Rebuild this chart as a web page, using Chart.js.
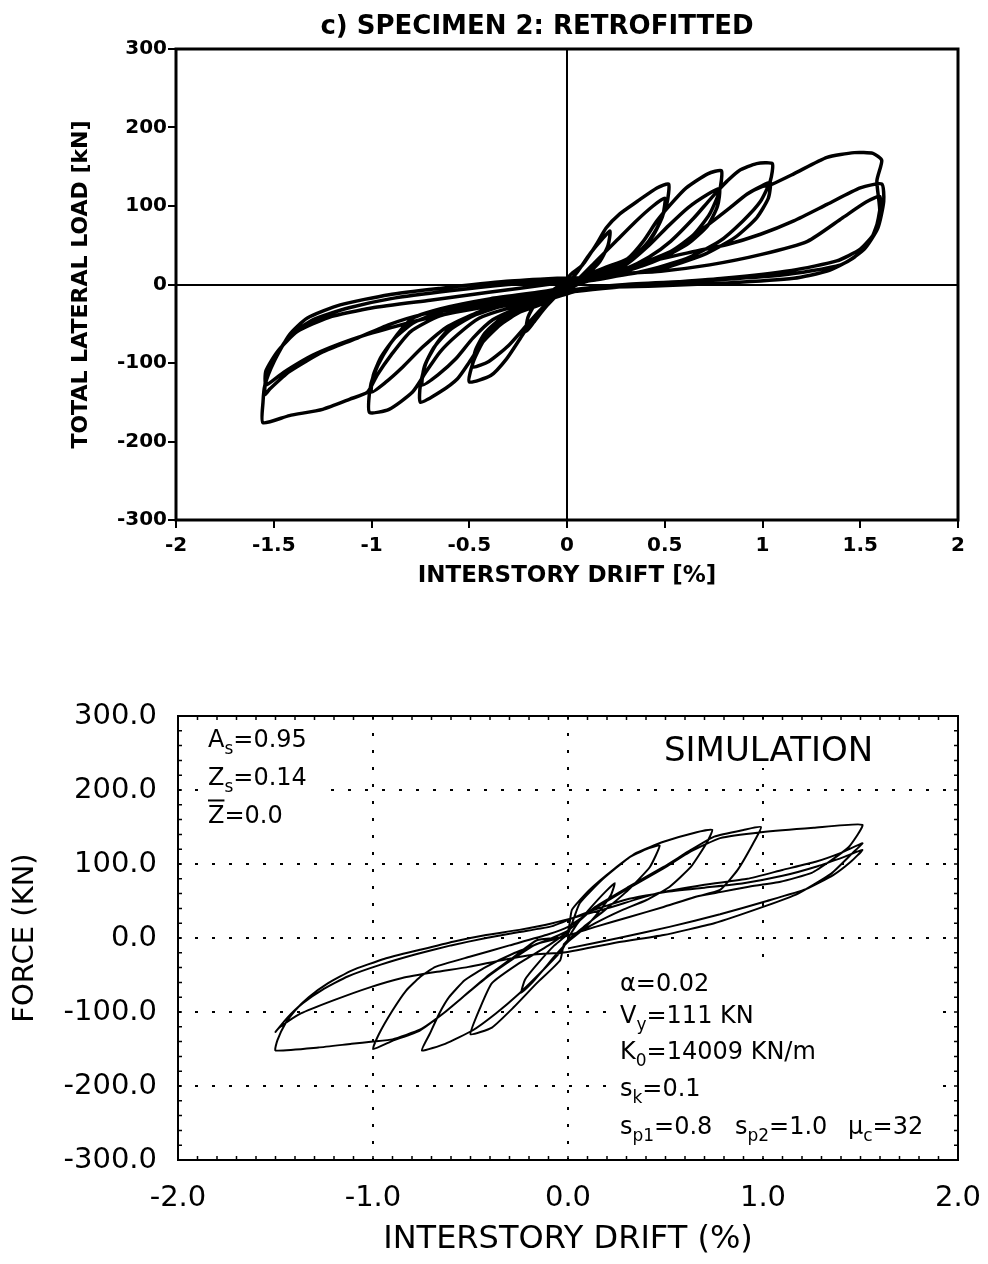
<!DOCTYPE html>
<html>
<head>
<meta charset="utf-8">
<script src="https://cdn.jsdelivr.net/npm/chart.js@4.4.1/dist/chart.umd.min.js"></script>
<style>
  body { margin: 0; background: #fff; }
  canvas { position: absolute; left: 0; background: #fff; }
  #topChart { top: 0; }
  #simChart { top: 640px; }
</style>
</head>
<body>
<canvas id="topChart" width="988" height="610"></canvas>
<canvas id="simChart" width="988" height="624"></canvas>
<script>
// tick labels
const topXTickLabels = ['-2', '-1.5', '-1', '-0.5', '0', '0.5', '1', '1.5', '2'];
const topYTickLabels = ['-300', '-200', '-100', '0', '100', '200', '300'];
const simXTickLabels = ['-2.0', '-1.0', '0.0', '1.0', '2.0'];
const simYTickLabels = ['-300.0', '-200.0', '-100.0', '0.0', '100.0', '200.0', '300.0'];

// test, specimen 2 retrofitted: [drift %, load kN]
const expCycle1 = [
  [0, 0], [0.05, 15], [0.12, 40], [0.18, 58], [0.22, 68],
  [0.21, 50], [0.17, 30], [0.10, 12], [0.02, 2],
  [-0.05, -12], [-0.12, -32], [-0.17, -48], [-0.21, -60],
  [-0.20, -42], [-0.16, -24], [-0.09, -10], [-0.02, 2]
];
const expCycle2 = [
  [0.02, 13], [0.08, 25], [0.15, 51], [0.20, 72], [0.27, 90], [0.36, 106], [0.46, 123], [0.52, 128],
  [0.51, 102], [0.46, 72], [0.39, 46], [0.25, 21], [0.10, 8], [0.0, 0],
  [-0.05, -13], [-0.10, -26], [-0.17, -43], [-0.24, -69], [-0.31, -95], [-0.39, -116], [-0.50, -124],
  [-0.48, -99], [-0.43, -73], [-0.36, -51], [-0.26, -35], [-0.14, -22], [-0.02, -8]
];
const expCycle3 = [
  [0.05, 5], [0.15, 30], [0.25, 55], [0.35, 80], [0.44, 100], [0.50, 110],
  [0.49, 88], [0.44, 62], [0.36, 40], [0.22, 20], [0.08, 6],
  [-0.04, -10], [-0.12, -28], [-0.20, -50], [-0.30, -78], [-0.40, -98], [-0.48, -105],
  [-0.47, -85], [-0.42, -62], [-0.33, -42], [-0.20, -28], [-0.05, -12], [0.02, 0]
];
const expCycle4 = [
  [0.10, 12], [0.20, 22], [0.31, 33], [0.39, 55], [0.46, 81], [0.53, 102], [0.61, 123], [0.72, 141], [0.79, 145],
  [0.78, 119], [0.73, 90], [0.65, 64], [0.53, 42], [0.31, 21], [0.10, 8], [0.0, 2],
  [-0.08, -16], [-0.14, -26], [-0.24, -35], [-0.34, -51], [-0.43, -73], [-0.50, -99], [-0.56, -120], [-0.65, -137], [-0.75, -150],
  [-0.75, -128], [-0.72, -99], [-0.66, -73], [-0.58, -51], [-0.45, -35], [-0.28, -22], [-0.10, -12], [0.0, -2]
];
const expCycle5 = [
  [0.15, 10], [0.30, 25], [0.42, 50], [0.52, 75], [0.62, 98], [0.72, 115], [0.78, 122],
  [0.77, 100], [0.72, 75], [0.62, 52], [0.48, 33], [0.30, 17], [0.10, 5],
  [-0.10, -18], [-0.25, -30], [-0.38, -45], [-0.48, -68], [-0.57, -95], [-0.66, -115], [-0.74, -128],
  [-0.73, -105], [-0.68, -80], [-0.60, -58], [-0.48, -40], [-0.30, -25], [-0.10, -12], [0.0, -4]
];
const expCycle6 = [
  [0.15, 8], [0.30, 20], [0.42, 35], [0.53, 55], [0.65, 85], [0.72, 105], [0.77, 119], [0.82, 132], [0.88, 145], [0.97, 154], [1.05, 154],
  [1.04, 132], [0.99, 106], [0.90, 81], [0.78, 55], [0.61, 33], [0.39, 17], [0.15, 6], [0.0, 0],
  [-0.14, -22], [-0.31, -31], [-0.45, -43], [-0.56, -64], [-0.65, -86], [-0.72, -111], [-0.79, -137], [-0.91, -159], [-1.01, -163],
  [-1.01, -137], [-0.99, -116], [-0.94, -90], [-0.87, -64], [-0.79, -43], [-0.65, -31], [-0.39, -18], [-0.15, -10], [0.0, -3]
];
const expCycle7 = [
  [0.20, 12], [0.40, 25], [0.55, 45], [0.70, 72], [0.82, 95], [0.92, 115], [1.00, 126], [1.04, 130],
  [1.03, 110], [0.97, 85], [0.86, 60], [0.70, 38], [0.48, 20], [0.22, 10], [0.02, 2],
  [-0.12, -18], [-0.30, -26], [-0.48, -38], [-0.62, -55], [-0.74, -80], [-0.84, -105], [-0.93, -125], [-1.00, -137],
  [-0.99, -115], [-0.95, -92], [-0.88, -68], [-0.78, -48], [-0.62, -33], [-0.40, -22], [-0.15, -12], [0.0, -4]
];
const expCycle8 = [
  [0.20, 12], [0.40, 25], [0.55, 45], [0.70, 72], [0.82, 95], [0.92, 115], [1.00, 125], [1.05, 128], [1.16, 141], [1.33, 162], [1.47, 168], [1.565, 167], [1.61, 158], [1.585, 132],
  [1.60, 90], [1.55, 55], [1.46, 33], [1.33, 17], [1.16, 8], [0.82, 2], [0.45, -2], [0.10, -5],
  [-0.14, -22], [-0.39, -25], [-0.65, -40], [-0.80, -60], [-0.90, -90], [-0.97, -115], [-1.02, -137], [-1.11, -146], [-1.25, -159], [-1.42, -167], [-1.555, -176],
  [-1.555, -150], [-1.545, -128], [-1.50, -99], [-1.42, -64], [-1.33, -43], [-1.16, -26], [-0.91, -13], [-0.65, -5], [-0.31, 4], [-0.05, 8]
];
const expCycle9 = [
  [0.15, 10], [0.40, 28], [0.65, 42], [0.82, 51], [0.99, 64], [1.16, 81], [1.33, 102], [1.50, 123], [1.61, 128],
  [1.62, 106], [1.59, 72], [1.52, 45], [1.40, 25], [1.10, 12], [0.70, 5], [0.30, 0], [0.0, -8],
  [-0.09, -18], [-0.23, -18], [-0.48, -26], [-0.74, -38], [-0.91, -51], [-1.08, -69], [-1.25, -86], [-1.42, -111], [-1.52, -133], [-1.545, -140],
  [-1.54, -118], [-1.50, -95], [-1.42, -66], [-1.30, -45], [-1.12, -30], [-0.90, -18], [-0.60, -8], [-0.30, 0], [-0.02, 5]
];
const expCycle10 = [
  [0.22, 13], [0.48, 17], [0.73, 25], [0.99, 38], [1.23, 55], [1.41, 85], [1.53, 105], [1.60, 112],
  [1.60, 95], [1.57, 65], [1.50, 45], [1.38, 30], [1.15, 18], [0.80, 8], [0.40, 0], [0.0, -10],
  [-0.20, -22], [-0.45, -30], [-0.70, -42], [-0.90, -55], [-1.10, -70], [-1.30, -90], [-1.45, -112], [-1.54, -128],
  [-1.54, -110], [-1.48, -85], [-1.38, -60], [-1.22, -42], [-1.00, -30], [-0.70, -20], [-0.40, -10], [-0.10, 0], [0.0, 3]
];

// simulation: [drift %, force kN]
const simCycle1 = [
  [0, 0], [0.05, 20], [0.12, 42], [0.19, 62], [0.24, 74],
  [0.22, 58], [0.16, 36], [0.08, 12], [0.0, -5],
  [-0.06, -22], [-0.13, -44], [-0.19, -62], [-0.24, -74],
  [-0.22, -56], [-0.15, -33], [-0.07, -10], [0.0, 6]
];
const simCycle2 = [
  [0.06, 47], [0.18, 80], [0.31, 108], [0.40, 120], [0.47, 125],
  [0.42, 96], [0.31, 65], [0.19, 38], [0.08, 15], [-0.02, -8],
  [-0.04, -30], [-0.16, -61], [-0.28, -94], [-0.39, -121], [-0.50, -130],
  [-0.45, -94], [-0.39, -61], [-0.25, -34], [-0.10, -10], [0.0, 10]
];
const simCycle3 = [
  [0.02, 38], [0.11, 65], [0.23, 92], [0.35, 115], [0.49, 130], [0.66, 143], [0.74, 146],
  [0.71, 128], [0.63, 96], [0.52, 69], [0.40, 51], [0.28, 38], [0.14, 20], [0.0, -2],
  [-0.03, -16], [-0.13, -44], [-0.25, -75], [-0.37, -102], [-0.49, -125], [-0.63, -143], [-0.75, -152],
  [-0.71, -130], [-0.66, -102], [-0.61, -80], [-0.53, -57], [-0.42, -39], [-0.28, -21], [-0.10, -2], [0.0, 10]
];
const simCycle4 = [
  [0.14, 42], [0.31, 69], [0.49, 96], [0.63, 119], [0.75, 137], [0.90, 146], [0.99, 150],
  [0.95, 128], [0.87, 92], [0.78, 65], [0.66, 56], [0.49, 42], [0.31, 28], [0.14, 15], [-0.03, 1],
  [-0.16, -3], [-0.28, -26], [-0.42, -53], [-0.54, -80], [-0.64, -102], [-0.76, -125], [-0.90, -139], [-1.0, -150],
  [-0.97, -130], [-0.90, -98], [-0.83, -71], [-0.76, -53], [-0.68, -39], [-0.50, -25], [-0.30, -10], [-0.10, 5], [0.0, 15]
];
const simCycle5 = [
  [0.14, 40], [0.31, 67], [0.49, 94], [0.63, 117], [0.78, 135], [0.99, 143], [1.26, 149], [1.51, 153],
  [1.44, 123], [1.35, 105], [1.25, 88], [1.09, 76], [0.92, 69], [0.78, 62], [0.66, 56], [0.49, 42], [0.31, 28], [0.14, 15], [-0.03, 1],
  [-0.16, -8], [-0.28, -28], [-0.42, -54], [-0.54, -80], [-0.64, -102], [-0.76, -124], [-0.90, -137], [-1.0, -140], [-1.11, -143], [-1.28, -148], [-1.50, -152],
  [-1.49, -138], [-1.45, -116], [-1.40, -98], [-1.33, -80], [-1.23, -61], [-1.11, -44], [-0.94, -28], [-0.76, -16], [-0.59, -5], [-0.42, 4], [-0.25, 11], [-0.08, 20]
];
const simCycle6 = [
  [0.20, 40], [0.45, 60], [0.70, 72], [0.92, 80], [1.10, 92], [1.27, 103], [1.40, 115], [1.51, 128],
  [1.46, 115], [1.35, 87], [1.18, 60], [1.0, 42], [0.75, 20], [0.49, 4], [0.23, -7], [-0.03, -20],
  [-0.16, -22], [-0.34, -30], [-0.51, -39], [-0.68, -46], [-0.85, -54], [-1.02, -67], [-1.20, -84], [-1.37, -102], [-1.48, -121], [-1.50, -127],
  [-1.44, -108], [-1.36, -88], [-1.26, -70], [-1.13, -52], [-0.96, -36], [-0.78, -22], [-0.60, -10], [-0.42, 0], [-0.25, 8], [-0.08, 16]
];
const simCycle7 = [
  [0.10, 35], [0.30, 52], [0.50, 62], [0.70, 68], [0.90, 74], [1.10, 84], [1.28, 97], [1.42, 110], [1.51, 119],
  [1.45, 103], [1.36, 85], [1.22, 66], [1.02, 50], [0.78, 32], [0.52, 15], [0.26, 0], [0.0, -14]
];

const expCycles = [expCycle1, expCycle2, expCycle3, expCycle4, expCycle5, expCycle6, expCycle7, expCycle8, expCycle9, expCycle10];
const simCycles = [simCycle1, simCycle2, simCycle3, simCycle4, simCycle5, simCycle6, simCycle7];

function toPoints(cycles) {
    const pts = [];
    cycles.forEach(c => c.forEach(p => pts.push({ x: p[0], y: p[1] })));
    return pts;
}

const framePlugin = {
    id: 'frame',
    afterDatasetsDraw(chart, args, opts) {
        const { ctx, chartArea: a } = chart;
        ctx.save();
        ctx.strokeStyle = '#000';
        ctx.lineWidth = opts.width || 2;
        ctx.strokeRect(a.left, a.top, a.right - a.left, a.bottom - a.top);
        if (opts.minor) {
            // small tick marks along the frame
            const sx = chart.scales.x, sy = chart.scales.y;
            ctx.lineWidth = 1.5;
            ctx.beginPath();
            for (let v = -20; v <= 20; v++) {
                const px = sx.getPixelForValue(v / 10);
                ctx.moveTo(px, a.bottom); ctx.lineTo(px, a.bottom - 4);
                ctx.moveTo(px, a.top); ctx.lineTo(px, a.top + 4);
            }
            for (let v = -15; v <= 15; v++) {
                const py = sy.getPixelForValue(v * 20);
                ctx.moveTo(a.left, py); ctx.lineTo(a.left + 4, py);
                ctx.moveTo(a.right, py); ctx.lineTo(a.right - 4, py);
            }
            ctx.stroke();
        }
        ctx.restore();
    }
};

const topTitlePlugin = {
    id: 'topTitle',
    afterDraw(chart) {
        const ctx = chart.ctx;
        ctx.save();
        ctx.fillStyle = '#000';
        ctx.font = 'bold 26px "DejaVu Sans"';
        ctx.textAlign = 'center';
        ctx.textBaseline = 'middle';
        ctx.fillText('c) SPECIMEN 2: RETROFITTED', 537, 27);
        ctx.restore();
    }
};

function drawRich(ctx, x, y, parts, size) {
    parts.forEach(([txt, kind]) => {
        if (kind === 'sub') {
            ctx.font = Math.round(size * 0.7) + 'px "DejaVu Sans"';
            ctx.fillText(txt, x, y + size * 0.28);
            x += ctx.measureText(txt).width;
        } else {
            ctx.font = size + 'px "DejaVu Sans"';
            ctx.fillText(txt, x, y);
            const w = ctx.measureText(txt).width;
            if (kind === 'bar') ctx.fillRect(x, y - size * 0.98, w, 2);
            x += w;
        }
    });
}

const simNotesPlugin = {
    id: 'simNotes',
    beforeDatasetsDraw(chart) {
        // the text blocks sit on white, hiding the dotted grid behind them
        const ctx = chart.ctx;
        ctx.save();
        ctx.fillStyle = '#fff';
        ctx.fillRect(204, 82, 118, 110);
        ctx.fillRect(660, 88, 222, 40);
        ctx.fillRect(616, 328, 316, 176);
        ctx.restore();
    },
    afterDraw(chart) {
        const ctx = chart.ctx;
        ctx.save();
        ctx.fillStyle = '#000';
        ctx.textAlign = 'left';
        ctx.textBaseline = 'alphabetic';
        ctx.font = '34px "DejaVu Sans"';
        ctx.fillText('SIMULATION', 664, 121);
        const s = 24;
        drawRich(ctx, 208, 107, [['A', 'n'], ['s', 'sub'], ['=0.95', 'n']], s);
        drawRich(ctx, 208, 145, [['Z', 'n'], ['s', 'sub'], ['=0.14', 'n']], s);
        drawRich(ctx, 208, 183, [['Z', 'bar'], ['=0.0', 'n']], s);
        drawRich(ctx, 620, 351, [['α=0.02', 'n']], s);
        drawRich(ctx, 620, 383, [['V', 'n'], ['y', 'sub'], ['=111 KN', 'n']], s);
        drawRich(ctx, 620, 419, [['K', 'n'], ['0', 'sub'], ['=14009 KN/m', 'n']], s);
        drawRich(ctx, 620, 456, [['s', 'n'], ['k', 'sub'], ['=0.1', 'n']], s);
        drawRich(ctx, 620, 494, [['s', 'n'], ['p1', 'sub'], ['=0.8', 'n']], s);
        drawRich(ctx, 735, 494, [['s', 'n'], ['p2', 'sub'], ['=1.0', 'n']], s);
        drawRich(ctx, 848, 494, [['μ', 'n'], ['c', 'sub'], ['=32', 'n']], s);
        ctx.restore();
    }
};

const boldFont = size => ({ family: '"DejaVu Sans"', size: size, weight: 'bold' });
const plainFont = size => ({ family: '"DejaVu Sans"', size: size });

// keep the plot box where the reference has it, whatever the tick labels need
function fixBox(h) {
    return s => {
        s.height = h;
        s.paddingLeft = 0;
        s.paddingRight = 0;
    };
}

new Chart(document.getElementById('topChart'), {
    type: 'scatter',
    data: {
        datasets: [{
            data: toPoints(expCycles),
            showLine: true,
            borderColor: '#000',
            borderWidth: 3.5,
            pointRadius: 0,
            tension: 0.2,
            fill: false
        }]
    },
    options: {
        responsive: false,
        animation: false,
        layout: { padding: { top: 49, right: 30, left: 0, bottom: 0 } },
        plugins: {
            legend: { display: false },
            tooltip: { enabled: false },
            frame: { width: 3 }
        },
        scales: {
            x: {
                type: 'linear',
                min: -2,
                max: 2,
                afterFit: fixBox(90),
                ticks: {
                    stepSize: 0.5,
                    autoSkip: false,
                    maxRotation: 0,
                    padding: 6,
                    color: '#000',
                    font: boldFont(20),
                    callback: (v, i) => topXTickLabels[i]
                },
                grid: {
                    color: c => (c.tick && c.tick.value === 0) ? '#000' : 'rgba(0,0,0,0)',
                    lineWidth: 2,
                    tickColor: '#000',
                    tickLength: 8,
                    tickWidth: 2
                },
                border: { display: false },
                title: {
                    display: true,
                    text: 'INTERSTORY DRIFT [%]',
                    color: '#000',
                    font: boldFont(23),
                    padding: { top: 0, bottom: 20 }
                }
            },
            y: {
                type: 'linear',
                min: -300,
                max: 300,
                afterFit: s => { s.width = 176; },
                ticks: {
                    stepSize: 100,
                    autoSkip: false,
                    padding: 1,
                    color: '#000',
                    font: boldFont(20),
                    callback: (v, i) => topYTickLabels[i]
                },
                grid: {
                    color: c => (c.tick && c.tick.value === 0) ? '#000' : 'rgba(0,0,0,0)',
                    lineWidth: 2,
                    tickColor: '#000',
                    tickLength: 8,
                    tickWidth: 2
                },
                border: { display: false },
                title: {
                    display: true,
                    text: 'TOTAL LATERAL LOAD [kN]',
                    color: '#000',
                    font: boldFont(22),
                    padding: { top: 68, bottom: 0 }
                }
            }
        }
    },
    plugins: [framePlugin, topTitlePlugin]
});

new Chart(document.getElementById('simChart'), {
    type: 'scatter',
    data: {
        datasets: [{
            data: toPoints(simCycles),
            showLine: true,
            borderColor: '#000',
            borderWidth: 2,
            pointRadius: 0,
            tension: 0.15,
            fill: false
        }]
    },
    options: {
        responsive: false,
        animation: false,
        layout: { padding: { top: 76, right: 30, left: 0, bottom: 0 } },
        plugins: {
            legend: { display: false },
            tooltip: { enabled: false },
            frame: { width: 2, minor: true }
        },
        scales: {
            x: {
                type: 'linear',
                min: -2,
                max: 2,
                afterFit: fixBox(104),
                ticks: {
                    stepSize: 1,
                    autoSkip: false,
                    maxRotation: 0,
                    padding: 21,
                    color: '#000',
                    font: plainFont(29),
                    callback: (v, i) => simXTickLabels[i]
                },
                grid: {
                    color: c => (c.tick && Math.abs(c.tick.value) < 2) ? '#000' : 'rgba(0,0,0,0)',
                    lineWidth: 2,
                    drawTicks: false
                },
                border: { display: false, dash: [3, 14] },
                title: {
                    display: true,
                    text: 'INTERSTORY DRIFT (%)',
                    color: '#000',
                    font: plainFont(32),
                    padding: { top: 0, bottom: 5 }
                }
            },
            y: {
                type: 'linear',
                min: -300,
                max: 300,
                afterFit: s => { s.width = 178; },
                ticks: {
                    stepSize: 100,
                    autoSkip: false,
                    padding: 21,
                    color: '#000',
                    font: plainFont(29),
                    callback: (v, i) => simYTickLabels[i]
                },
                grid: {
                    color: c => (c.tick && Math.abs(c.tick.value) < 300) ? '#000' : 'rgba(0,0,0,0)',
                    lineWidth: 2,
                    drawTicks: false
                },
                border: { display: false, dash: [3, 14] },
                title: {
                    display: true,
                    text: 'FORCE (KN)',
                    color: '#000',
                    font: plainFont(29),
                    padding: { top: 8, bottom: 0 }
                }
            }
        }
    },
    plugins: [framePlugin, simNotesPlugin]
});
</script>
</body>
</html>
